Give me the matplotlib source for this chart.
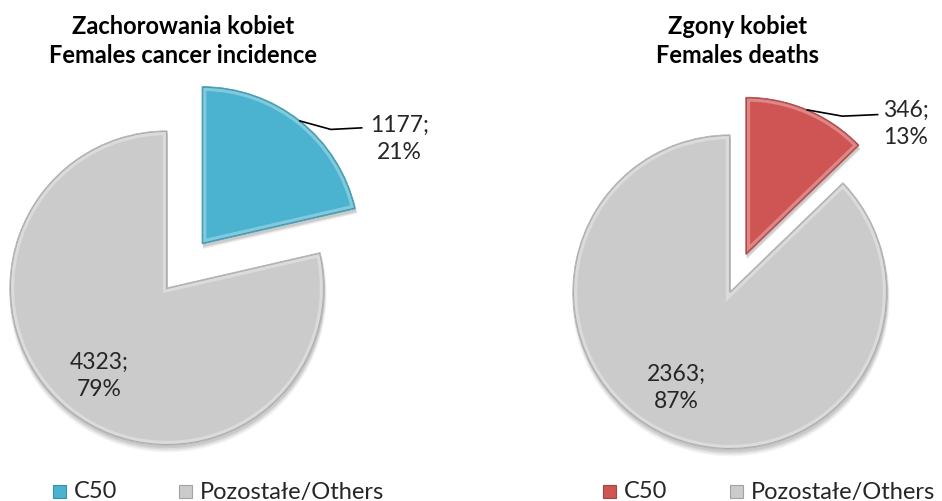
import numpy as np
import matplotlib
matplotlib.use("Agg")
import matplotlib.pyplot as plt
from matplotlib.patches import Rectangle, Wedge

plt.rcParams["font.family"] = ["Lato", "DejaVu Sans"]

# data
categories = ["C50", "Pozostałe/Others"]
incidence = [1177, 4323]
deaths = [346, 2363]
titles = ["Zachorowania kobiet\nFemales cancer incidence", "Zgony kobiet\nFemales deaths"]
c50_colors = ["#4BB3CF", "#CE5553"]
grey = "#CBCBCB"

W, H = 942, 501
R = 157  # pie radius in px
HALF = 240


def px_axes(fig, cx, cy):
    ax = fig.add_axes([(cx - HALF) / W, 1 - (cy + HALF) / H, 2 * HALF / W, 2 * HALF / H])
    ax.axis("off")
    return ax


def fix_limits(ax):
    lim = HALF / R
    ax.set_xlim(-lim, lim)
    ax.set_ylim(-lim, lim)
    ax.set_aspect("equal")


def darker(c, f=0.75):
    r, g, b = matplotlib.colors.to_rgb(c)
    return (r * f, g * f, b * f)


def lighter(c, f=0.35):
    r, g, b = matplotlib.colors.to_rgb(c)
    return (r + (1 - r) * f, g + (1 - g) * f, b + (1 - b) * f)


def draw_pie(ax, values, color, explode, label_pos, lead_end, other_pos):
    colors = [color, grey]
    # soft shadow under the slices
    for k, a in enumerate([0.07, 0.06, 0.05, 0.04]):
        ax.pie(values, startangle=90, counterclock=False,
               explode=[explode, 0], colors=["k", "k"], radius=1.0 + 0.004 * k,
               center=(0.005, -0.02 - 0.005 * k),
               wedgeprops=dict(linewidth=0, alpha=a))
    wedges, _ = ax.pie(values, startangle=90, counterclock=False,
                       explode=[explode, 0], colors=colors,
                       wedgeprops=dict(linewidth=0.8))
    for w, c in zip(wedges, colors):
        w.set_edgecolor(darker(c, 0.85))
        # bevel: light inner band clipped to the wedge
        band = Wedge(w.center, w.r, w.theta1, w.theta2, facecolor="none",
                     edgecolor=lighter(c, 0.3), linewidth=6, zorder=w.get_zorder() + 0.1)
        ax.add_patch(band)
        band.set_clip_path(w)
        band2 = Wedge(w.center, w.r, w.theta1, w.theta2, facecolor="none",
                      edgecolor=darker(c, 0.85), linewidth=1.5, zorder=w.get_zorder() + 0.2)
        ax.add_patch(band2)
        band2.set_clip_path(w)

    total = sum(values)
    texts = [f"{v};\n{round(100 * v / total)}%" for v in values]

    # leader line from the exploded slice arc to its label
    w = wedges[0]
    mid = np.deg2rad((w.theta1 + w.theta2) / 2)
    x0 = w.center[0] + w.r * np.cos(mid)
    y0 = w.center[1] + w.r * np.sin(mid)
    ax.plot([x0, (x0 + lead_end[0]) / 2, lead_end[0]],
            [y0, lead_end[1] - 0.01, lead_end[1]], color="black", lw=1.2, zorder=5)
    ax.text(label_pos[0], label_pos[1], texts[0], ha="center", va="center",
            fontsize=16.5, color="#262626", linespacing=1.4, zorder=6)
    ax.text(other_pos[0], other_pos[1], texts[1], ha="center", va="center",
            fontsize=16.5, color="#262626", linespacing=1.4, zorder=6)
    fix_limits(ax)


fig = plt.figure(figsize=(W / 100, H / 100), dpi=100)

ax1 = px_axes(fig, 167, 288)
draw_pie(ax1, incidence, c50_colors[0], 0.36, (1.48, 0.95), (1.24, 1.02), (-0.43, -0.56))

ax2 = px_axes(fig, 730, 292)
draw_pie(ax2, deaths, c50_colors[1], 0.26, (1.12, 1.07), (0.94, 1.13), (-0.34, -0.61))

fig.text(183 / W, 1 - 41 / H, titles[0], ha="center", va="center", fontsize=17,
         fontweight="bold", linespacing=1.35)
fig.text(738 / W, 1 - 41 / H, titles[1], ha="center", va="center", fontsize=17,
         fontweight="bold", linespacing=1.35)

# legends below each pie
legend_items = [
    [(53, c50_colors[0], categories[0]), (179, grey, categories[1])],
    [(603, c50_colors[1], categories[0]), (730, grey, categories[1])],
]
for items in legend_items:
    for x, c, lab in items:
        fig.add_artist(Rectangle((x / W, 1 - 498 / H), 13 / W, 13 / H,
                                 transform=fig.transFigure, facecolor=c,
                                 edgecolor=darker(c, 0.8), linewidth=0.8))
        fig.text((x + 21) / W, 1 - 492 / H, lab, ha="left", va="center",
                 fontsize=17, color="#262626")

fig.savefig("out.png", dpi=100, facecolor="white")
